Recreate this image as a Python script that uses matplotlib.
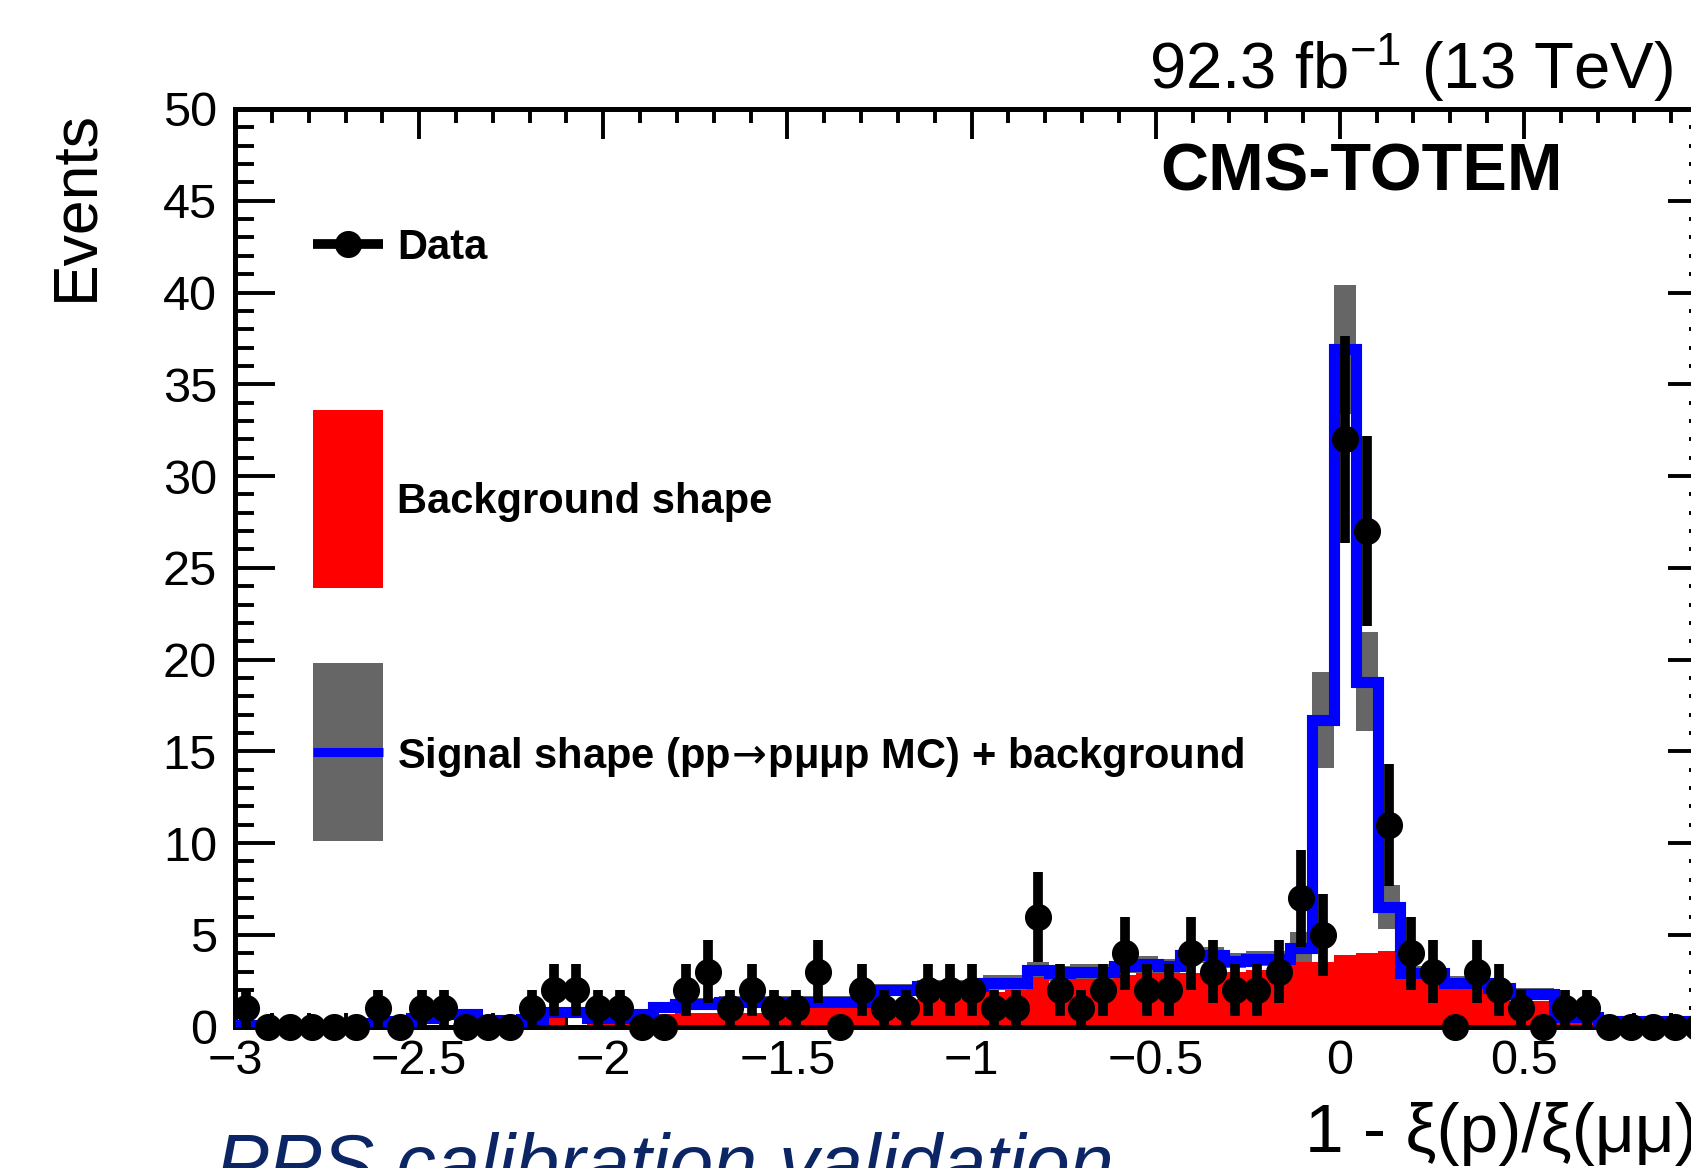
import numpy as np
import matplotlib
matplotlib.use("Agg")
import matplotlib.pyplot as plt
from matplotlib.ticker import MultipleLocator, FuncFormatter

plt.rcParams['font.family'] = ['Liberation Sans', 'DejaVu Sans']
plt.rcParams['mathtext.default'] = 'regular'

# 67 bins of 1 - xi(p)/xi(mumu) between -3 and 1
x_lo, x_hi, n_bins = -3.0, 1.0, 67

# observed events per bin
counts = [1, 0, 0, 0, 0, 0, 1, 0, 1, 1,
          0, 0, 0, 1, 2, 2, 1, 1, 0, 0,
          2, 3, 1, 2, 1, 1, 3, 0, 2, 1,
          1, 2, 2, 2, 1, 1, 6, 2, 1, 2,
          4, 2, 2, 4, 3, 2, 2, 3, 7, 5,
          32, 27, 11, 4, 3, 0, 3, 2, 1, 0,
          1, 1, 0, 0, 0, 0, 0]

# background shape
background = [0, 0, 0, 0, 0, 0, 0, 0, 0, 0,
              0, 0, 0, 0.15, 0.5, 0.1, 0.15, 0.2, 0.6, 0.7,
              0.75, 0.75, 0.75, 0.75, 0.75, 0.8, 1.1, 1.1, 1.1, 1.0,
              1.0, 1.5, 1.5, 1.5, 1.9, 2.0, 2.7, 2.2, 2.6, 2.6,
              2.8, 2.9, 2.9, 2.9, 3.0, 3.0, 3.1, 3.1, 3.5, 3.5,
              3.9, 4.0, 4.1, 2.6, 2.6, 2.2, 2.2, 1.8, 1.2, 1.4,
              0.35, 0.2, 0.05, 0.05, 0.05, 0.05, 0.05]

# signal MC + background
sig_plus_bkg = [0.08, 0.08, 0.08, 0.08, 0.08, 0.08, 0.2, 0.3, 0.45, 0.7,
                0.7, 0.35, 0.3, 0.4, 0.8, 0.8, 0.45, 0.45, 0.7, 1.05,
                1.25, 1.25, 1.35, 1.35, 1.35, 1.35, 1.35, 1.35, 1.35, 2.0,
                2.0, 2.2, 2.2, 2.2, 2.4, 2.4, 3.1, 2.9, 3.0, 3.0,
                3.3, 3.4, 3.3, 3.9, 3.9, 3.6, 3.7, 3.7, 4.3, 16.7,
                36.9, 18.8, 6.5, 2.9, 2.9, 2.4, 2.4, 2.1, 1.8, 1.8,
                0.55, 0.5, 0.3, 0.3, 0.3, 0.3, 0.3]

# uncertainty on signal + background
sig_plus_bkg_err = [0.1, 0.1, 0.1, 0.1, 0.1, 0.1, 0.1, 0.15, 0.15, 0.2,
                    0.2, 0.15, 0.15, 0.2, 0.25, 0.25, 0.2, 0.2, 0.25, 0.3,
                    0.3, 0.3, 0.3, 0.3, 0.3, 0.3, 0.3, 0.3, 0.3, 0.35,
                    0.35, 0.35, 0.35, 0.35, 0.4, 0.4, 0.45, 0.4, 0.4, 0.4,
                    0.4, 0.45, 0.4, 0.45, 0.45, 0.4, 0.4, 0.4, 0.85, 2.6,
                    3.5, 2.7, 1.2, 0.4, 0.4, 0.35, 0.35, 0.3, 0.3, 0.3,
                    0.2, 0.2, 0.15, 0.15, 0.15, 0.15, 0.15]

edges = np.linspace(x_lo, x_hi, n_bins + 1)
centers = 0.5 * (edges[:-1] + edges[1:])
width = edges[1] - edges[0]
counts = np.array(counts, dtype=float)
total = np.array(sig_plus_bkg)
err = np.array(sig_plus_bkg_err)

fig = plt.figure(figsize=(16.91, 11.68), dpi=100)
ax = fig.add_axes([0.139, 0.121, 0.8711, 0.7857])

# grey uncertainty band, red background, blue total, black data
ax.bar(centers, 2 * err, bottom=total - err, width=width,
       color='#666666', linewidth=0, zorder=1)
ax.stairs(background, edges, fill=True, color='#ff0000', zorder=2)
ax.stairs(total, edges, color='#0000ff', linewidth=8, baseline=None, zorder=3)
eb = ax.errorbar(centers, counts, yerr=np.sqrt(counts), fmt='o', color='black',
                 ms=18.5, elinewidth=7, capsize=0, zorder=4)
for art in eb.get_children():
    art.set_clip_on(False)

ax.set_xlim(x_lo, x_hi)
ax.set_ylim(0, 50)

fmt = FuncFormatter(lambda v, p: ('%g' % v).replace('-', '\u2212'))
ax.xaxis.set_major_locator(MultipleLocator(0.5))
ax.xaxis.set_minor_locator(MultipleLocator(0.1))
ax.yaxis.set_major_locator(MultipleLocator(5))
ax.yaxis.set_minor_locator(MultipleLocator(1))
ax.xaxis.set_major_formatter(fmt)
ax.yaxis.set_major_formatter(fmt)

ax.tick_params(which='both', direction='in', top=True, right=True, width=2.8)
ax.tick_params(axis='x', which='major', length=21.5, labelsize=35, pad=9)
ax.tick_params(axis='x', which='minor', length=10)
ax.tick_params(axis='y', which='major', length=29, labelsize=35, pad=13)
ax.tick_params(axis='y', which='minor', length=13.5)
for sp in ax.spines.values():
    sp.set_linewidth(3.6)

# legend
tr = ax.transAxes
ax.plot([0.053, 0.1005], [0.853, 0.853], transform=tr, color='black', lw=7,
        solid_capstyle='butt', clip_on=False)
ax.plot([0.0767], [0.853], 'o', transform=tr, color='black', ms=18.5, clip_on=False)
ax.add_patch(plt.Rectangle((0.053, 0.478), 0.0475, 0.194, transform=tr,
                           color='#ff0000', lw=0))
ax.add_patch(plt.Rectangle((0.053, 0.2023), 0.0475, 0.194, transform=tr,
                           color='#666666', lw=0))
ax.plot([0.053, 0.1005], [0.2993, 0.2993], transform=tr, color='#0000ff', lw=6.5,
        solid_capstyle='butt')
ax.text(0.110, 0.853, 'Data', transform=tr, fontsize=30, weight='bold',
        va='center_baseline')
ax.text(0.110, 0.577, 'Background shape', transform=tr, fontsize=30,
        weight='bold', va='center_baseline')
ax.text(0.110, 0.300,
        'Signal shape (pp$\\!\\mathrm{\\rightarrow}\\!$p\u03bc\u03bcp MC) + background',
        transform=tr, fontsize=30, weight='bold', va='center_baseline')

fig.text(0.805, 0.8365, 'CMS-TOTEM', weight='bold', fontsize=48,
         ha='center', va='baseline')
fig.text(0.989, 0.923, '92.3 fb$^{-1}$ (13 TeV)', fontsize=47,
         ha='right', va='baseline')
fig.text(0.045, 0.906, 'Events', rotation=90, fontsize=45, ha='center', va='top')
fig.text(0.7717, 0.0137, '1 - \u03be(p)/\u03be(\u03bc\u03bc)', fontsize=50,
         ha='left', va='baseline')
fig.text(0.1277, -0.0188, 'PPS calibration validation', style='italic',
         color='#0b2565', fontsize=57, ha='left', va='baseline')

fig.savefig('out.png', dpi=100)
